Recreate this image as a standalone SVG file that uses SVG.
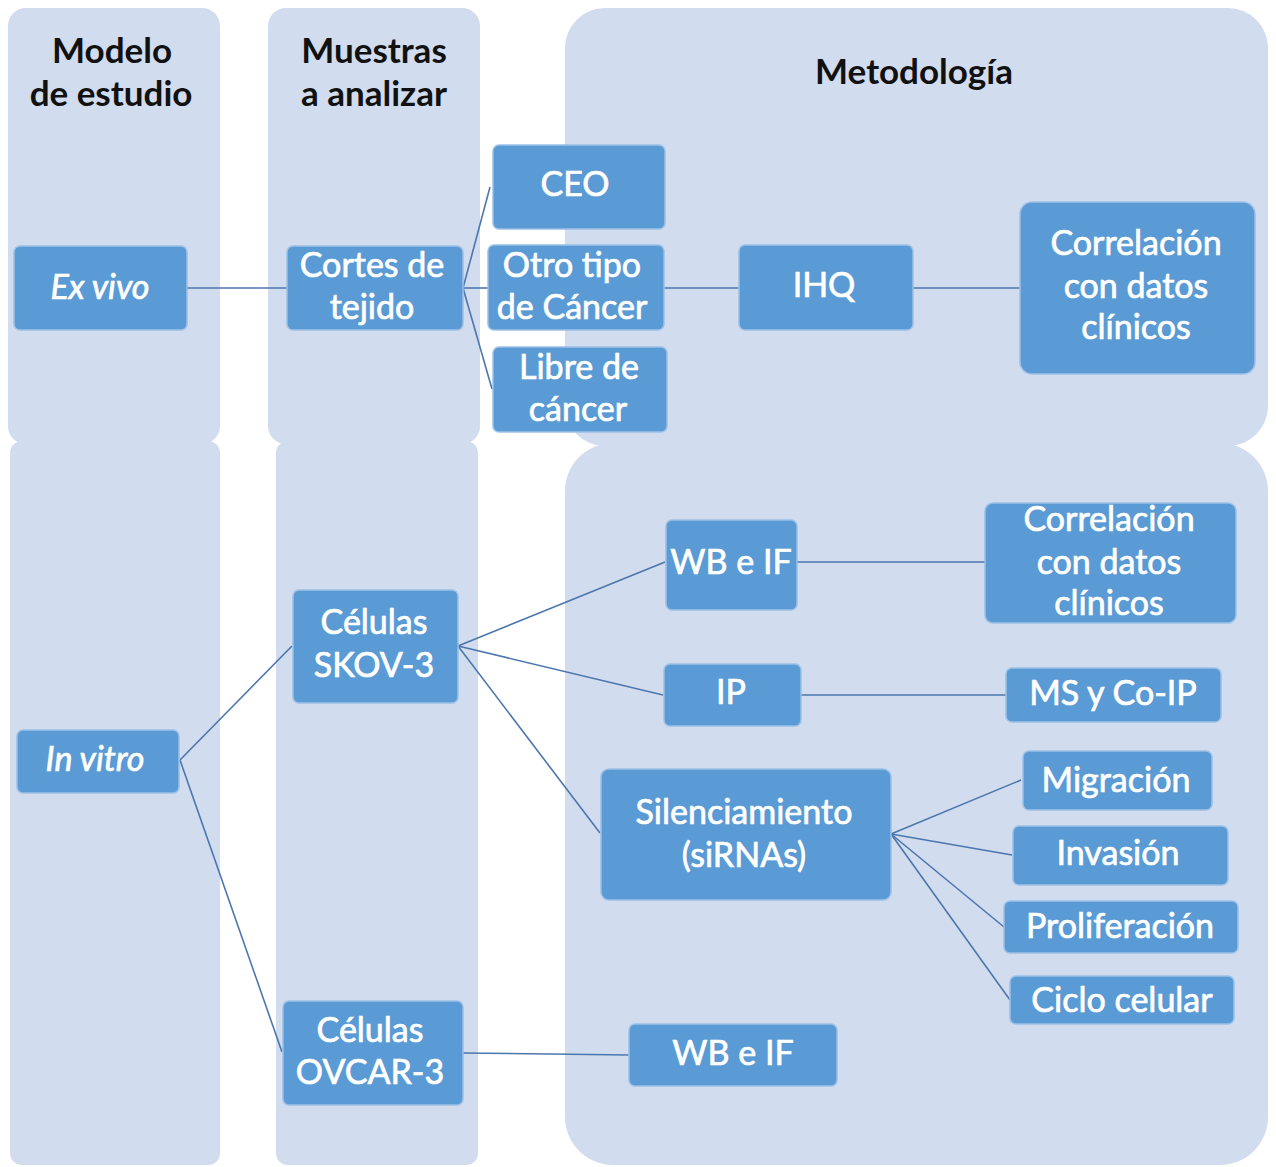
<svg xmlns="http://www.w3.org/2000/svg" width="1276" height="1167" viewBox="0 0 1276 1167">
<style>
.panel{fill:#D1DCEE}
.node rect{fill:#5B9BD5;stroke:#9DC0E6;stroke-width:1.5}
.node text{fill:#FFFFFF;stroke:#FFFFFF;stroke-width:0.7;font-family:Lato,"Open Sans","Liberation Sans",sans-serif;font-size:34px;text-anchor:middle}
.it{font-style:italic}
.hdr{fill:#111111;font-family:Lato,"Open Sans","Liberation Sans",sans-serif;font-size:35px;font-weight:bold;text-anchor:middle}
#connectors line{stroke:#4C77AE;stroke-width:1.6;fill:none}
</style>
<rect width="1276" height="1167" fill="#FFFFFF"/>
<g id="panels">
<rect class="panel" x="8" y="8" width="212" height="436" rx="18"/>
<rect class="panel" x="10" y="441" width="210" height="724" rx="12"/>
<rect class="panel" x="268" y="8" width="212" height="436" rx="18"/>
<rect class="panel" x="276" y="441" width="202" height="724" rx="12"/>
<rect class="panel" x="565" y="8" width="703" height="438" rx="40"/>
<rect class="panel" x="565" y="443" width="703" height="722" rx="48"/>
</g>
<g id="headers">
<text class="hdr" x="112" y="63">Modelo</text>
<text class="hdr" x="111" y="106">de estudio</text>
<text class="hdr" x="374" y="63">Muestras</text>
<text class="hdr" x="374" y="106">a analizar</text>
<text class="hdr" x="914" y="84">Metodología</text>
</g>
<g id="connectors">
<line x1="187" y1="288" x2="287" y2="288"/>
<line x1="463" y1="288" x2="490" y2="187"/>
<line x1="463" y1="288" x2="488" y2="288"/>
<line x1="463" y1="288" x2="492" y2="389"/>
<line x1="664" y1="288" x2="739" y2="288"/>
<line x1="913" y1="288" x2="1020" y2="288"/>
<line x1="180" y1="760" x2="292" y2="646"/>
<line x1="180" y1="760" x2="282" y2="1052"/>
<line x1="458" y1="646" x2="665" y2="562"/>
<line x1="458" y1="646" x2="663" y2="695"/>
<line x1="458" y1="646" x2="600" y2="833"/>
<line x1="463" y1="1053" x2="629" y2="1055"/>
<line x1="797" y1="562" x2="985" y2="562"/>
<line x1="801" y1="695" x2="1006" y2="695"/>
<line x1="891" y1="834" x2="1021" y2="780"/>
<line x1="891" y1="834" x2="1012" y2="855"/>
<line x1="891" y1="834" x2="1004" y2="927"/>
<line x1="891" y1="834" x2="1010" y2="1000"/>
</g>
<g id="n-exvivo" class="node"><rect x="14" y="246" width="173" height="84" rx="6"/><text class="it" x="100" y="299">Ex vivo</text></g>
<g id="n-cortes" class="node"><rect x="287" y="246" width="176" height="84" rx="6"/><text x="372" y="277">Cortes de</text><text x="372" y="319">tejido</text></g>
<g id="n-ceo" class="node"><rect x="493" y="145" width="172" height="84" rx="6"/><text x="575" y="196">CEO</text></g>
<g id="n-otro" class="node"><rect x="488" y="245" width="176" height="85" rx="6"/><text x="572" y="277">Otro tipo</text><text x="572" y="319">de Cáncer</text></g>
<g id="n-libre" class="node"><rect x="493" y="347" width="174" height="85" rx="6"/><text x="579" y="379">Libre de</text><text x="578" y="421">cáncer</text></g>
<g id="n-ihq" class="node"><rect x="739" y="245" width="174" height="85" rx="6"/><text x="824" y="297">IHQ</text></g>
<g id="n-corr1" class="node"><rect x="1020" y="202" width="235" height="172" rx="12"/><text x="1136" y="255">Correlación</text><text x="1136" y="298">con datos</text><text x="1136" y="339">clínicos</text></g>
<g id="n-invitro" class="node"><rect x="17" y="730" width="162" height="63" rx="6"/><text class="it" x="95" y="771">In vitro</text></g>
<g id="n-skov" class="node"><rect x="293" y="590" width="165" height="113" rx="6"/><text x="374" y="634">Células</text><text x="374" y="677">SKOV-3</text></g>
<g id="n-ovcar" class="node"><rect x="283" y="1001" width="180" height="104" rx="6"/><text x="370" y="1042">Células</text><text x="370" y="1084">OVCAR-3</text></g>
<g id="n-wbif1" class="node"><rect x="666" y="520" width="131" height="90" rx="6"/><text x="731" y="574">WB e IF</text></g>
<g id="n-corr2" class="node"><rect x="985" y="503" width="251" height="120" rx="8"/><text x="1109" y="531">Correlación</text><text x="1109" y="574">con datos</text><text x="1109" y="615">clínicos</text></g>
<g id="n-ip" class="node"><rect x="664" y="664" width="137" height="62" rx="6"/><text x="731" y="704">IP</text></g>
<g id="n-ms" class="node"><rect x="1006" y="668" width="215" height="54" rx="6"/><text x="1113" y="705">MS y Co-IP</text></g>
<g id="n-sil" class="node"><rect x="601" y="769" width="290" height="131" rx="8"/><text x="744" y="824">Silenciamiento</text><text x="744" y="867">(siRNAs)</text></g>
<g id="n-mig" class="node"><rect x="1023" y="751" width="189" height="59" rx="6"/><text x="1116" y="792">Migración</text></g>
<g id="n-inv" class="node"><rect x="1013" y="826" width="215" height="59" rx="6"/><text x="1118" y="865">Invasión</text></g>
<g id="n-prol" class="node"><rect x="1004" y="901" width="234" height="52" rx="6"/><text x="1120" y="938">Proliferación</text></g>
<g id="n-ciclo" class="node"><rect x="1010" y="976" width="224" height="48" rx="6"/><text x="1122" y="1012">Ciclo celular</text></g>
<g id="n-wbif2" class="node"><rect x="629" y="1024" width="208" height="62" rx="6"/><text x="733" y="1065">WB e IF</text></g>
</svg>
